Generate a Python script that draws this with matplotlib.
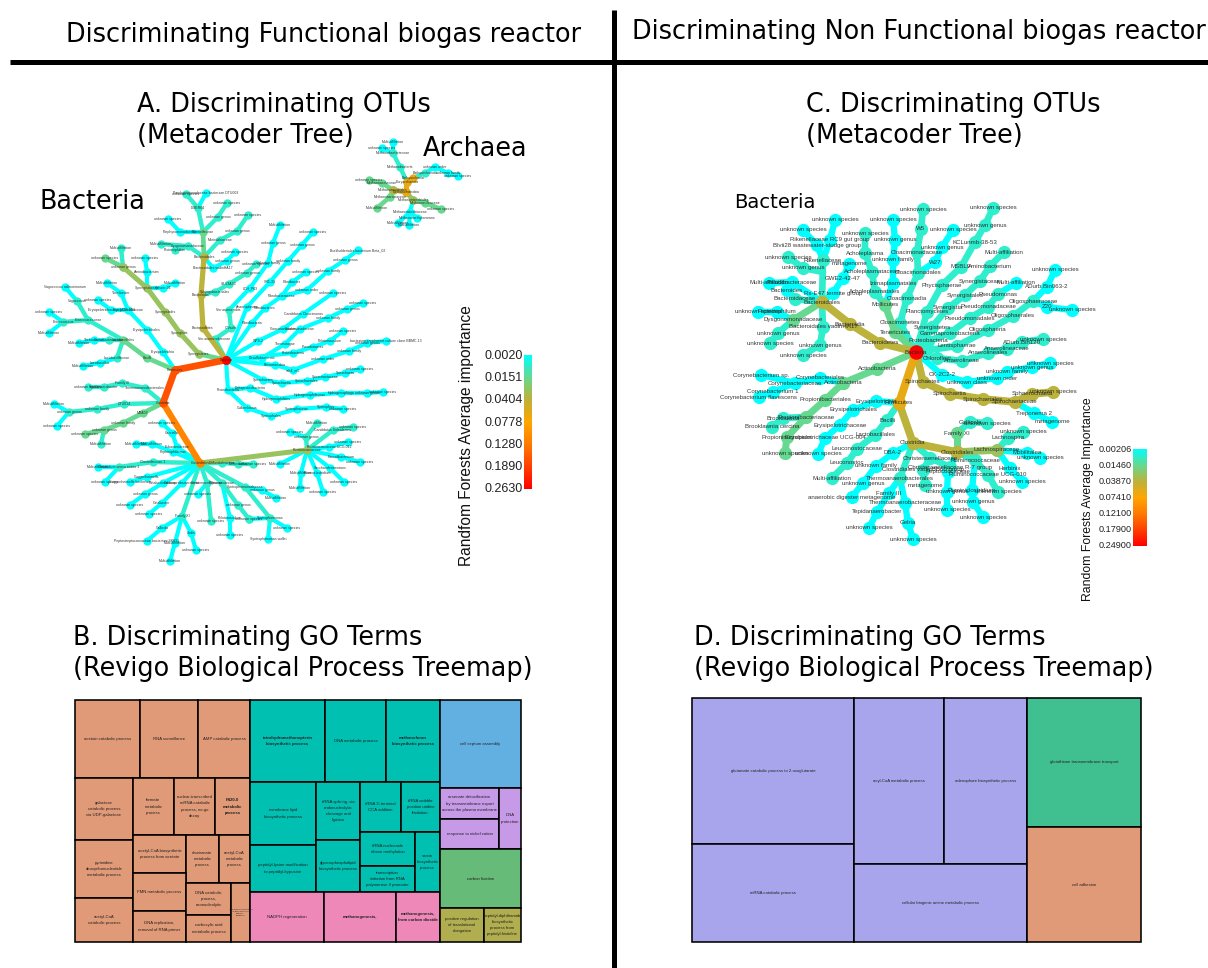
import numpy as np
import matplotlib
matplotlib.use("Agg")
import matplotlib.pyplot as plt
from matplotlib.colors import LinearSegmentedColormap
from matplotlib.patches import Rectangle

# ---------- importance levels ----------
CY = 0.002; TE = 0.008; GR = 0.0151; LG = 0.03; OL = 0.04; MU = 0.065; OR = 0.115; RO = 0.17

TICKS_A = [0.002, 0.0151, 0.0404, 0.0778, 0.128, 0.189, 0.263]
TICK_LABELS_A = ["0.0020", "0.0151", "0.0404", "0.0778", "0.1280", "0.1890", "0.2630"]
TICK_LABELS_C = ["0.00206", "0.01460", "0.03870", "0.07410", "0.12100", "0.17900", "0.24900"]
STOPS = ['#00FFFF', '#66D98F', '#BDB23A', '#FFA600', '#FF7A00', '#FF4000', '#FF0000']

# ---------- tree A (bacteria): (importance, [(x, y, label), ...]) ----------
RA = (226, 360, "Bacteria")
FI = (175, 370, "Firmicutes")
CA = (163, 403, "Clostridia")
CL = (200, 463, "Clostridiales")
RU = (307, 450, "Ruminococcaceae")
TREE_A = [
 (RO, [RA, FI]), (RO, [FI, CA]), (OR, [CA, CL]), (LG, [CL, RU]),
 (CY, [FI, (163, 352, "Erysipelotrichia"), (147, 330, "Erysipelotrichales"), (128, 310, "Erysipelotrichaceae"), (111, 310, "Erysipelotrichaceae UCG-004"), (98, 300, "unknown species")]),
 (CY, [(128, 310, ""), (121, 293, "Turicibacter"), (107, 283, "Multi-affiliation")]),
 (GR, [FI, (147, 358, "Bacilli"), (123, 340, "Lactobacillales")]),
 (TE, [(123, 340, ""), (88, 320, "Enterococcaceae"), (77, 301, "Vagococcus")]),
 (CY, [(77, 301, ""), (65, 287, "Vagococcus salmoninarum")]),
 (TE, [(88, 320, ""), (63, 322, "Enterococcus")]),
 (CY, [(63, 322, ""), (49, 312, "unknown species")]),
 (CY, [(63, 322, ""), (49, 333, "Multi-affiliation")]),
 (TE, [(123, 340, ""), (109, 340, "Carnobacteriaceae")]),
 (CY, [(109, 340, ""), (94, 340, "Trichococcus"), (79, 343, "Multi-affiliation")]),
 (TE, [(123, 340, ""), (117, 358, "Lactobacillaceae")]),
 (CY, [(117, 358, ""), (100, 363, "Lactobacillus"), (83, 366, "Multi-affiliation")]),
 (GR, [RA, (199, 354, "Synergistetes")]),
 (LG, [(199, 354, ""), (180, 333, "Synergistia"), (165, 312, "Synergistales"), (147, 288, "Synergistaceae"), (123, 267, "unknown genus")]),
 (GR, [(123, 267, ""), (105, 258, "unknown species")]),
 (TE, [(123, 267, ""), (121, 248, "Multi-affiliation")]),
 (CY, [(147, 288, ""), (147, 272, "Aminobacterium"), (145, 258, "unknown species")]),
 (CY, [(147, 288, ""), (163, 288, "Sphaer-01"), (175, 283, "Multi-affiliation")]),
 (OL, [RA, (203, 328, "Bacteroidetes"), (201, 295, "Bacteroidia"), (204, 257, "Bacteroidales")]),
 (GR, [(204, 257, ""), (203, 232, "Rikenellaceae")]),
 (TE, [(203, 232, ""), (198, 208, "DMER64")]),
 (TE, [(198, 208, ""), (186, 194, "unknown species")]),
 (CY, [(198, 208, ""), (206, 193, "Porphyromonadaceae bacterium DTU003")]),
 (TE, [(203, 232, ""), (218, 217, "unknown genus"), (227, 203, "unknown species")]),
 (CY, [(203, 232, ""), (180, 232, "Porphyromonadaceae"), (168, 219, "unknown species")]),
 (TE, [(204, 257, ""), (188, 246, "Dysgonomonadaceae"), (161, 244, "Multi-affiliation")]),
 (TE, [(188, 246, ""), (175, 250, "Proteiniphilum")]),
 (TE, [(204, 257, ""), (220, 240, "Marinilabiaceae"), (237, 231, "unknown genus"), (248, 215, "unknown species")]),
 (CY, [(204, 257, ""), (213, 268, "Bacteroidales vadinHA17"), (227, 261, "unknown genus"), (235, 252, "unknown species")]),
 (TE, [(201, 295, ""), (215, 292, "Sphingobacteriales"), (229, 284, "SJ-53A33"), (247, 273, "unknown genus"), (256, 264, "unknown species")]),
 (TE, [RA, (215, 339, "Verrucomicrobiaceae"), (231, 328, "C.Vadin"), (229, 310, "Verrucomicrobia")]),
 (CY, [(229, 310, ""), (250, 288, "LOH_P63"), (268, 263, "unknown family"), (273, 243, "unknown genus"), (280, 225, "Multi-affiliation")]),
 (CY, [RA, (247, 307, "Anaeroplasma"), (270, 282, "SR1-33"), (288, 261, "unknown family"), (302, 245, "unknown genus"), (313, 232, "unknown species")]),
 (CY, [RA, (252, 323, "Fibrobacteria"), (265, 308, "Fibrobacteres"), (282, 296, "Fibrobacteraceae"), (292, 282, "Fibrobacter"), (306, 272, "unknown species")]),
 (CY, [(282, 296, ""), (307, 290, "unknown order"), (328, 271, "unknown family"), (345, 260, "unknown genus"), (358, 250, "Burkholderiales bacterium Beta_02")]),
 (CY, [RA, (258, 341, "WPS-2"), (283, 329, "Cloacimonadales"), (303, 314, "Candidatus Cloacimonas"), (333, 293, "unknown species")]),
 (CY, [RA, (262, 358, "Desulfobacterota"), (285, 344, "Thermotogae"), (300, 329, "Cloacimonadaceae"), (328, 318, "unknown family"), (347, 309, "unknown genus"), (363, 303, "unknown species")]),
 (CY, [RA, (293, 353, "Proteobacteria"), (313, 347, "Pseudomonas"), (330, 341, "Pelotomaculum"), (343, 331, "unknown species")]),
 (CY, [RA, (275, 365, "Rhizomicrobia"), (293, 370, "ssb4_m5"), (323, 359, "unknown order"), (349, 351, "unknown family"), (367, 343, "unknown genus"), (386, 341, "bacterium enrichment culture clone BBMC-13")]),
 (CY, [RA, (263, 380, "Spirochaetes"), (282, 383, "Spirochaetia"), (307, 381, "Spirochaetales"), (325, 377, "Spirochaetaceae"), (345, 373, "Spirochaeta"), (360, 369, "unknown species")]),
 (CY, [RA, (228, 390, "Proteobacteria"), (250, 388, "Deltaproteobacteria"), (276, 399, "Hydrogenophilales"), (310, 395, "Hydrogenophilaceae"), (341, 393, "Hydrogenophaga"), (367, 393, "unknown genus"), (383, 392, "unknown species")]),
 (CY, [(228, 390, ""), (247, 408, "Gulbenkiania"), (271, 416, "Syntrophales"), (297, 409, "Syntrophaceae"), (326, 407, "Syntrophus"), (343, 409, "unknown species")]),
 (TE, [RU, (306, 437, "unknown genus")]),
 (CY, [(306, 437, ""), (290, 432, "unknown species")]),
 (TE, [(306, 437, ""), (317, 423, "Multi-affiliation")]),
 (TE, [RU, (333, 430, "Candidatus Soleaferrea"), (353, 427, "unknown species")]),
 (CY, [RU, (329, 447, "Ruminococcaceae UCG-012"), (348, 442, "unknown species")]),
 (CY, [RU, (341, 457, "Faecalibacterium"), (360, 462, "unknown species")]),
 (CY, [RU, (330, 468, "Saccharofermentans"), (344, 482, "unknown species")]),
 (CY, [RU, (317, 473, "Ruminiclostridium"), (323, 492, "unknown species")]),
 (CY, [RU, (301, 473, "Multi-affiliation"), (300, 488, "Multi-affiliation")]),
 (CY, [RU, (280, 464, "Multi-affiliation")]),
 (TE, [CL, (222, 463, "Defluviitaleaceae"), (238, 464, "Defluviitalea"), (253, 464, "unknown species")]),
 (TE, [CL, (245, 487, "Syntrophomonadaceae"), (270, 518, "Syntrophomonas")]),
 (CY, [(245, 487, ""), (262, 490, "unknown genus"), (276, 498, "Multi-affiliation")]),
 (CY, [(270, 518, ""), (287, 528, "unknown species")]),
 (CY, [(270, 518, ""), (268, 539, "Syntrophomonas wolfei")]),
 (CY, [(270, 518, ""), (249, 519, "unknown species")]),
 (TE, [CL, (222, 483, "Peptococcaceae"), (238, 505, "unknown genus"), (249, 519, "")]),
 (CY, [(222, 483, ""), (230, 518, "Pelotomaculum"), (230, 535, "unknown species")]),
 (TE, [CL, (207, 483, "Christensenellaceae"), (211, 521, "unknown species")]),
 (CY, [(207, 483, ""), (198, 494, "unknown species")]),
 (TE, [CL, (182, 516, "Family XI")]),
 (CY, [(182, 516, ""), (162, 528, "Gallicola"), (147, 541, "Peptostreptococcaceae bacterium SK031")]),
 (CY, [(182, 516, ""), (191, 533, "Sedis"), (196, 550, "unknown species")]),
 (CY, [(182, 516, ""), (175, 543, "Multi-affiliation"), (170, 561, "Multi-affiliation")]),
 (CY, [CL, (182, 483, "Caldicoprobacteraceae"), (162, 503, "Catabacter"), (149, 514, "unknown species")]),
 (CY, [CL, (163, 483, "Catabacteriaceae"), (145, 494, "unknown genus"), (130, 505, "unknown species")]),
 (CY, [CL, (147, 477, "Guggenheimella"), (130, 482, "Guggenheimella bacterium")]),
 (TE, [CL, (153, 462, "Clostridiaceae 1"), (119, 467, "Clostridium sensu stricto 1")]),
 (CY, [(119, 467, ""), (98, 467, "Multi-affiliation")]),
 (CY, [(119, 467, ""), (105, 482, "unknown species")]),
 (CY, [CL, (173, 452, "Peptoniphilaceae"), (152, 444, "Multi-affiliation"), (136, 444, "Multi-affiliation")]),
 (CY, [CL, (177, 447, "Eubacteriaceae"), (172, 433, "Garciella"), (162, 423, "unknown species")]),
 (TE, [CA, (124, 404, "DTU014")]),
 (TE, [(124, 404, ""), (97, 409, "unknown family"), (69, 412, "unknown genus")]),
 (CY, [(69, 412, ""), (54, 404, "Multi-affiliation")]),
 (CY, [(69, 412, ""), (57, 426, "unknown species")]),
 (TE, [CA, (145, 388, "Thermoanaerobacterales"), (122, 383, "Family III"), (104, 387, "Tepidanaerobacter"), (88, 387, "unknown species")]),
 (GR, [CA, (143, 413, "MBA03"), (123, 423, "unknown family"), (104, 430, "unknown genus"), (85, 434, "unknown species")]),
 (TE, [(104, 430, ""), (101, 444, "Multi-affiliation")]),
]

# ---------- tree A (archaea) ----------
EU = (407, 182, "Euryarchaeota")
ME = (406, 192, "Methanomicrobia")
TREE_ARCH = [
 (MU, [EU, ME]), (MU, [EU, (413, 178, "Bathyarchaeia")]),
 (TE, [(413, 178, ""), (425, 173, "Bathyarchaeota")]),
 (CY, [(425, 173, ""), (435, 167, "unknown order"), (448, 173, "unknown family"), (458, 176, "unknown species")]),
 (TE, [EU, (400, 167, "Methanobacteria"), (393, 153, "Methanobacteriaceae")]),
 (CY, [(393, 153, ""), (393, 142, "Multi-affiliation")]),
 (CY, [(393, 153, ""), (382, 148, "unknown species")]),
 (OL, [ME, (393, 190, "Methanosarcinales")]),
 (GR, [(393, 190, ""), (382, 183, "Methanosaetaceae"), (369, 180, "unknown species")]),
 (GR, [(393, 190, ""), (390, 197, "Methanosarcinaceae"), (377, 208, "Multi-affiliation")]),
 (LG, [ME, (413, 200, "Methanomicrobiales")]),
 (GR, [(413, 200, ""), (425, 203, "Methanoculleaceae"), (441, 209, "unknown species")]),
 (CY, [(413, 200, ""), (410, 212, "Methanomicrobiaceae"), (398, 223, "Multi-affiliation")]),
 (CY, [(410, 212, ""), (409, 225, "Multi-affiliation")]),
 (CY, [(410, 212, ""), (417, 218, "Methanomethylovorans")]),
]

# ---------- tree C ----------
RC = (916, 352, "Bacteria")
FC = (899, 403, "Firmicutes")
CC = (913, 443, "Clostridia")
LC = (957, 452, "Clostridiales")
LA = (997, 450, "Lachnospiraceae")
BC = (822, 302, "Bacteroidales")
AC = (843, 383, "Actinobacteria")
TREE_C = [
 (OL, [RC, (880, 343, "Bacteroidetes"), (850, 324, "Bacteroidia"), BC]),
 (CY, [BC, (833, 293, "Rs-E47 termite group"), (843, 278, "GWE2-42-47"), (849, 264, "metagenome")]),
 (TE, [BC, (823, 260, "Rikenellaceae")]),
 (CY, [(823, 260, ""), (830, 240, "Rikenellaceae RC9 gut group"), (835, 220, "unknown species")]),
 (CY, [(823, 260, ""), (817, 245, "Blvii28 wastewater-sludge group"), (803, 230, "unknown species")]),
 (TE, [(823, 272, ""), (803, 268, "unknown genus"), (788, 257, "unknown species")]),
 (TE, [BC, (795, 299, "Bacteroidaceae")]),
 (CY, [(795, 299, ""), (787, 290, "Bacteroides")]),
 (CY, [BC, (792, 282, "Paludibacteraceae"), (769, 283, "Multi-affiliation")]),
 (TE, [BC, (823, 327, "Bacteroidales vadinHA17"), (820, 345, "unknown genus"), (803, 355, "unknown species")]),
 (GR, [BC, (793, 320, "Dysgonomonadaceae")]),
 (CY, [(793, 320, ""), (777, 312, "Proteiniphilum"), (758, 312, "unknown species")]),
 (TE, [(793, 320, ""), (778, 333, "unknown genus"), (770, 343, "unknown species")]),
 (GR, [RC, (895, 332, "Tenericutes"), (885, 305, "Mollicutes")]),
 (TE, [(885, 305, ""), (875, 292, "Acholeplasmatales"), (872, 272, "Acholeplasmataceae"), (865, 253, "Acholeplasma"), (865, 233, "unknown species")]),
 (CY, [(885, 305, ""), (893, 283, "Izimaplasmatales"), (893, 260, "unknown family"), (895, 240, "unknown genus"), (893, 220, "unknown species")]),
 (TE, [RC, (900, 323, "Cloacimonetes"), (907, 298, "Cloacimonadia"), (918, 273, "Cloacimonadales"), (917, 252, "Cloacimonadaceae"), (921, 229, "W5"), (923, 209, "unknown species")]),
 (CY, [(918, 273, ""), (935, 262, "W27"), (942, 247, "unknown genus"), (953, 230, "unknown species")]),
 (TE, [RC, (927, 312, "Planctomycetes"), (942, 285, "Phycisphaerae"), (961, 267, "MSBL9"), (975, 242, "KCLunmb-38-53"), (985, 225, "unknown genus"), (993, 208, "unknown species")]),
 (TE, [RC, (932, 327, "Synergistetes"), (948, 308, "Synergistia"), (965, 295, "Synergistales"), (980, 281, "Synergistaceae"), (990, 266, "Aminobacterium"), (1004, 252, "Multi-affiliation")]),
 (TE, [RC, (928, 341, "Proteobacteria"), (950, 333, "Gammaproteobacteria"), (970, 318, "Pseudomonadales"), (988, 307, "Pseudomonadaceae"), (998, 294, "Pseudomonas")]),
 (CY, [(998, 294, ""), (1016, 283, "Multi-affiliation")]),
 (TE, [RC, (957, 346, "Lentisphaerae"), (988, 330, "Oligosphaeria"), (1013, 316, "Oligosphaerales"), (1033, 301, "Oligosphaeraceae")]),
 (CY, [(1033, 301, ""), (1047, 287, "ADurb.Bin063-2"), (1055, 270, "unknown species")]),
 (CY, [(1033, 301, ""), (1047, 307, "Z20"), (1072, 310, "unknown species")]),
 (TE, [RC, (937, 358, "Chloroflexi"), (962, 361, "Anaerolineae"), (988, 353, "Anaerolineales"), (1007, 349, "Anaerolineaceae"), (1022, 342, "ADurb.Bin120"), (1043, 339, "unknown species")]),
 (CY, [RC, (942, 375, "CK-2C2-2"), (967, 382, "unknown class"), (997, 378, "unknown order"), (1007, 372, "unknown family"), (1032, 367, "unknown genus"), (1050, 363, "unknown species")]),
 (OL, [RC, (923, 382, "Spirochaetes"), (950, 394, "Spirochaetia"), (983, 399, "Spirochaetales"), (1015, 402, "Spirochaetaceae"), (1032, 394, "Sphaerochaeta"), (1053, 392, "unknown species")]),
 (CY, [(1015, 402, ""), (1034, 413, "Treponema 2"), (1052, 422, "metagenome")]),
 (MU, [RC, FC]),
 (OL, [FC, CC]),
 (OL, [CC, LC]),
 (LG, [LC, LA]),
 (TE, [LA, (1008, 438, "Lachnospira"), (1023, 432, "unknown species")]),
 (CY, [LA, (1027, 453, "Mobilitalea"), (1040, 458, "unknown species")]),
 (CY, [LA, (1010, 468, "Herbinix"), (1022, 482, "unknown species")]),
 (GR, [LC, (957, 433, "Family XI")]),
 (TE, [(957, 433, ""), (970, 422, "Gallicola"), (987, 423, "unknown species")]),
 (TE, [LC, (975, 460, "Ruminococcaceae"), (988, 475, "Ruminococcaceae UCG-010"), (998, 492, "unknown species")]),
 (CY, [(975, 460, ""), (972, 490, "Ruminiclostridium"), (973, 502, "unknown genus"), (983, 517, "unknown species")]),
 (CY, [LC, (948, 472, "Peptococcaceae"), (947, 492, "unknown genus"), (947, 510, "unknown species")]),
 (TE, [CC, (930, 458, "Christensenellaceae"), (950, 467, "Christensenellaceae R-7 group")]),
 (TE, [(930, 458, ""), (923, 470, "Clostridiales vadinBB60 group"), (925, 485, "metagenome")]),
 (CY, [FC, (876, 401, "Erysipelotrichia"), (853, 410, "Erysipelotrichales"), (840, 425, "Erysipelotrichaceae"), (825, 438, "Erysipelotrichaceae UCG-004"), (818, 454, "unknown species")]),
 (TE, [FC, (887, 420, "Bacilli"), (875, 435, "Lactobacillales"), (857, 449, "Leuconostocaceae"), (847, 463, "Leuconostoc"), (832, 478, "Multi-affiliation")]),
 (CY, [CC, (893, 453, "DBA-2"), (876, 466, "unknown family"), (863, 483, "unknown genus"), (852, 497, "anaerobic digester metagenome")]),
 (TE, [CC, (900, 478, "Thermoanaerobacterales")]),
 (CY, [(900, 478, ""), (889, 493, "Family III"), (877, 512, "Tepidanaerobacter"), (869, 528, "unknown species")]),
 (CY, [(900, 478, ""), (905, 503, "Thermoanaerobacteraceae"), (908, 523, "Gelria"), (913, 539, "unknown species")]),
 (GR, [RC, (877, 369, "Actinobacteria"), AC]),
 (CY, [AC, (820, 378, "Corynebacteriales"), (795, 383, "Corynebacteriaceae"), (773, 392, "Corynebacterium 1"), (759, 397, "Corynebacterium flavescens")]),
 (CY, [(795, 383, ""), (761, 375, "Corynebacterium sp.")]),
 (GR, [AC, (825, 400, "Propionibacteriales"), (806, 417, "Propionibacteriaceae"), (787, 437, "Propionimicrobium"), (785, 453, "unknown species")]),
 (TE, [(806, 417, ""), (783, 418, "Brooklawnia"), (772, 427, "Brooklawnia cercina")]),
]

# ---------- treemaps: (label, left, top, right, bottom, bold) ----------
ORANGE = '#E09A78'; TEAL = '#00C0B2'; BLUE = '#62B0E2'; PURPLE = '#C79AE8'
GREEN = '#66BB78'; OLIVE = '#B1AE50'; PINK = '#EE88B8'; LAV = '#A9A5EC'; SEA = '#40C090'
MAP_B_ORANGE = [
 ("acetoin catabolic process", 75, 700, 140, 778, False), ("RNA surveillance", 140, 700, 198, 778, False),
 ("AMP catabolic process", 198, 700, 250, 778, False),
 ("galactose\ncatabolic process\nvia UDP-galactose", 75, 778, 133, 840, False),
 ("formate\nmetabolic\nprocess", 133, 778, 174, 835, False),
 ("nuclear-transcribed\nmRNA catabolic\nprocess, no-go\ndecay", 174, 778, 215, 835, False),
 ("F420-0\nmetabolic\nprocess", 215, 778, 250, 835, True),
 ("pyrimidine\ndeoxyribonucleotide\nmetabolic process", 75, 840, 133, 898, False),
 ("acetyl-CoA\ncatabolic process", 75, 898, 133, 942, False),
 ("acetyl-CoA biosynthetic\nprocess from acetate", 133, 835, 186, 873, False),
 ("chorismate\nmetabolic\nprocess", 186, 835, 219, 883, False),
 ("acetyl-CoA\nmetabolic\nprocess", 219, 835, 250, 883, False),
 ("FMN metabolic process", 133, 873, 186, 911, False),
 ("DNA replication,\nremoval of RNA primer", 133, 911, 186, 942, False),
 ("DNA catabolic\nprocess,\nexonucleolytic", 186, 883, 231, 915, False),
 ("carboxylic acid\nmetabolic process", 186, 915, 231, 942, False),
]
MAP_B_TINY = [("regulation of transcription\nfrom RNA polymerase\npromoter\nelongation", 231, 883, 250, 942, False)]
MAP_B_TEAL = [
 ("tetrahydromethanopterin\nbiosynthetic process", 250, 700, 325, 782, True),
 ("DNA metabolic process", 325, 700, 386, 782, False),
 ("methanofuran\nbiosynthetic process", 386, 700, 440, 782, True),
 ("membrane lipid\nbiosynthetic process", 250, 782, 316, 845, False),
 ("peptidyl-lysine modification\nto peptidyl-hypusine", 250, 845, 316, 892, False),
 ("tRNA splicing, via\nendonucleolytic\ncleavage and\nligation", 316, 782, 360, 840, False),
 ("glycerophospholipid\nbiosynthetic process", 316, 840, 360, 892, False),
 ("tRNA 3'-terminal\nCCA addition", 360, 782, 401, 832, False),
 ("tRNA wobble\nposition uridine\nthiolation", 401, 782, 440, 832, False),
 ("tRNA nucleoside\nribose methylation", 360, 832, 415, 866, False),
 ("transcription\ninitiation from RNA\npolymerase II promoter", 360, 866, 415, 892, False),
 ("sarcin\nbiosynthetic\nprocess", 415, 832, 440, 892, False),
]
MAP_B_PINK = [
 ("NADPH regeneration", 250, 892, 324, 942, False), ("methanogenesis,", 324, 892, 396, 942, True),
 ("methanogenesis,\nfrom carbon dioxide", 396, 892, 440, 942, True),
]
MAP_B_BLUE = [("cell septum assembly", 440, 700, 521, 788, False)]
MAP_B_PURPLE = [
 ("arsenate detoxification\nby transmembrane export\nacross the plasma membrane", 440, 788, 499, 819, False),
 ("response to nickel cation", 440, 819, 499, 849, False),
 ("DNA\nprotection", 499, 788, 521, 849, False),
]
MAP_B_GREEN = [("carbon fixation", 440, 849, 521, 908, False)]
MAP_B_OLIVE = [
 ("positive regulation\nof translational\nelongation", 440, 908, 484, 942, False),
 ("peptidyl-diphthamide\nbiosynthetic\nprocess from\npeptidyl-histidine", 484, 908, 521, 942, False),
]
MAP_D_LAV = [
 ("glutamate catabolic process to 2-oxoglutarate", 692, 698, 854, 844, False),
 ("mRNA catabolic process", 692, 844, 854, 942, False),
 ("acyl-CoA metabolic process", 854, 698, 944, 864, False),
 ("adenophore biosynthetic process", 944, 698, 1027, 864, False),
 ("cellular biogenic amine metabolic process", 854, 864, 1027, 942, False),
]
MAP_D_SEA = [("glutathione transmembrane transport", 1027, 698, 1141, 827, False)]
MAP_D_ORANGE = [("cell adhesion", 1027, 827, 1141, 942, False)]

CMAP = LinearSegmentedColormap.from_list("imp", STOPS)
def col(v):
    return CMAP(np.interp(v, TICKS_A, np.linspace(0, 1, 7)))

fig = plt.figure(figsize=(12.08, 9.68), dpi=100)
ax = fig.add_axes([0, 0, 1, 1])
HEAD = 'DejaVu Sans'
SANS = 'Liberation Sans'

def draw_tree(branches, lw, ms, fs, wgain=0.5, root=None, rootms=None):
    order = sorted(branches, key=lambda b: b[0])
    for v, path in order:
        xs = [p[0] for p in path]; ys = [p[1] for p in path]
        c = col(v)
        pos = np.interp(v, TICKS_A, np.linspace(0, 1, 7))
        ax.plot(xs, ys, '-', color=c, lw=lw * (1 + wgain * pos * 2), solid_capstyle='round', zorder=2 + pos)
        ax.plot(xs[1:], ys[1:], 'o', color=c, ms=ms, mew=0, zorder=2 + pos)
        if v > TE:
            ax.plot(xs[:1], ys[:1], 'o', color=c, ms=ms, mew=0, zorder=2 + pos)
    seen = set()
    for v, path in branches:
        for x, y, t in path:
            if t and (x, y) not in seen:
                seen.add((x, y))
                ax.text(x, y, t, fontsize=fs, family=SANS, color='#222222', alpha=0.9,
                        ha='center', va='center', zorder=6)
    if root:
        ax.plot([root[0]], [root[1]], 'o', color='#FF0000', ms=rootms, mew=0, zorder=5)

draw_tree(TREE_A, 3.0, 6.0, 2.5, wgain=0.4, root=RA, rootms=6.5)
draw_tree(TREE_ARCH, 3.0, 6.0, 2.5, wgain=0.3)
draw_tree(TREE_C, 4.6, 9.5, 4.4, wgain=0.3, root=RC, rootms=10.5)

def draw_map(cells, color):
    for label, x0, y0, x1, y1, bold in cells:
        ax.add_patch(Rectangle((x0, y0), x1 - x0, y1 - y0, fc=color, ec='black', lw=1.15, zorder=2))
        size = 1.5 if (x1 - x0) < 20 else 3.1
        ax.text((x0 + x1) / 2, (y0 + y1) / 2, label, fontsize=size, family=SANS, color='#222222',
                fontweight='bold' if bold else 'normal', ha='center', va='center',
                linespacing=1.7, zorder=3)

for cells, color in [(MAP_B_ORANGE, ORANGE), (MAP_B_TINY, ORANGE), (MAP_B_TEAL, TEAL), (MAP_B_PINK, PINK),
                     (MAP_B_BLUE, BLUE), (MAP_B_PURPLE, PURPLE), (MAP_B_GREEN, GREEN), (MAP_B_OLIVE, OLIVE),
                     (MAP_D_LAV, LAV), (MAP_D_SEA, SEA), (MAP_D_ORANGE, ORANGE)]:
    draw_map(cells, color)

grad = np.linspace(0, 1, 256).reshape(-1, 1)
ax.imshow(grad, cmap=CMAP, extent=(524, 532, 489, 355), aspect='auto', zorder=3)
ax.imshow(grad, cmap=CMAP, extent=(1133, 1147, 546, 449), aspect='auto', zorder=3)
for t, y in zip(TICK_LABELS_A, np.linspace(356, 489, 7)):
    ax.text(523, y, t, fontsize=9, family=SANS, color='#222222', ha='right', va='center')
for t, y in zip(TICK_LABELS_C, np.linspace(450, 546, 7)):
    ax.text(1132, y, t, fontsize=6.6, family=SANS, color='#222222', ha='right', va='center')
ax.text(467, 566, "Randfom Forests Average importance", fontsize=11.2, family=SANS, rotation=90, ha='center', va='bottom', color='#111111')
ax.text(1088, 601, "Random Forests Average Importance", fontsize=8.85, family=SANS, rotation=90, ha='center', va='bottom', color='#111111')

# heading rules
ax.plot([10, 1208], [62, 62], color='black', lw=3.6, solid_capstyle='butt', zorder=8)
ax.plot([613.5, 613.5], [10, 968], color='black', lw=3.6, solid_capstyle='butt', zorder=8)

HFS = 18.4
ax.text(66, 35, "Discriminating Functional biogas reactor", fontsize=HFS, family=HEAD, va='center')
ax.text(632, 32, "Discriminating Non Functional biogas reactor", fontsize=HFS, family=HEAD, va='center')
for x, t, y in [(137, "A. Discriminating OTUs", 105), (137, "(Metacoder Tree)", 136), (806, "C. Discriminating OTUs", 105),
                (806, "(Metacoder Tree)", 136), (73, "B. Discriminating GO Terms", 638),
                (73, "(Revigo Biological Process Treemap)", 669), (694, "D. Discriminating GO Terms", 638),
                (694, "(Revigo Biological Process Treemap)", 669), (423, "Archaea", 149), (40, "Bacteria", 202)]:
    ax.text(x, y, t, fontsize=HFS, family=HEAD, va='center')
ax.text(734, 202, "Bacteria", fontsize=14.1, family=HEAD, va='center')

ax.set_xlim(0, 1208)
ax.set_ylim(968, 0)
ax.axis('off')
fig.savefig('out.png', dpi=100)
